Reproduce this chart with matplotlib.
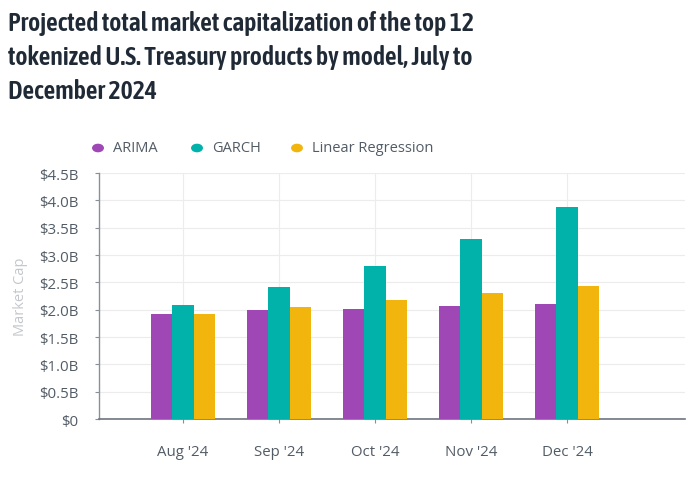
import matplotlib.pyplot as plt
import numpy as np

# dados (bilhoes de dolares)
meses = ["Aug '24", "Sep '24", "Oct '24", "Nov '24", "Dec '24"]
arima = [1.92, 1.99, 2.02, 2.06, 2.10]
garch = [2.09, 2.42, 2.80, 3.29, 3.88]
linreg = [1.92, 2.05, 2.17, 2.30, 2.44]
modelos = ['ARIMA', 'GARCH', 'Linear Regression']
cores = ['#9f47b5', '#00b2a9', '#f2b50e']
yticks = [0, 0.5, 1.0, 1.5, 2.0, 2.5, 3.0, 3.5, 4.0, 4.5]
ylabels = ['$0', '$0.5B', '$1.0B', '$1.5B', '$2.0B', '$2.5B', '$3.0B', '$3.5B', '$4.0B', '$4.5B']

plt.rcParams['font.family'] = ['Open Sans', 'DejaVu Sans']

fig = plt.figure(figsize=(7, 4.81), dpi=100)
ax = fig.add_axes([0.1414, 0.1268, 0.8372, 0.5112])

x = np.arange(len(meses))
w = 0.22
for i, (serie, cor) in enumerate(zip([arima, garch, linreg], cores)):
    ax.bar(x + (i - 1) * w, serie, width=w, color=cor, zorder=3)

ax.set_xlim(-0.875, 5.23)
ax.set_ylim(0, 4.5)
ax.set_yticks(yticks)
ax.set_yticklabels(ylabels)
ax.set_xticks(x)
ax.set_xticklabels(meses)

ax.grid(True, color='#ececec', linewidth=0.8, zorder=0)
for s in ['top', 'right']:
    ax.spines[s].set_visible(False)
ax.spines['left'].set_color('#8a9099')
ax.spines['bottom'].set_color('#6e757e')
ax.spines['left'].set_linewidth(1)
ax.spines['bottom'].set_linewidth(1.2)
ax.tick_params(axis='both', colors='#8a9099', labelcolor='#525c66', labelsize=10.8, length=3)
ax.tick_params(axis='x', pad=15)
ax.tick_params(axis='y', pad=12)

ax.set_ylabel('Market Cap', color='#c4c8cc', fontsize=10.5, labelpad=8)

# titulo
fig.text(0.012, 0.977, 'Projected total market capitalization of the top 12\n'
         'tokenized U.S. Treasury products by model, July to\nDecember 2024',
         fontsize=18.5, fontweight='semibold', color='#1f2a36', va='top', ha='left',
         linespacing=1.45, family=['Asap Condensed', 'Open Sans', 'DejaVu Sans'])

# legenda manual com circulos
leg_x = [98, 197, 297]
for lx, nome, cor in zip(leg_x, modelos, cores):
    fig.patches.append(plt.Circle((lx / 700, 1 - 149 / 481), 0.0075, color=cor,
                                  transform=fig.transFigure, figure=fig))
    fig.text((lx + 15) / 700, 1 - 149 / 481, nome, fontsize=10.5, color='#525c66',
             va='center', ha='left')

fig.savefig('out.png', dpi=100)
